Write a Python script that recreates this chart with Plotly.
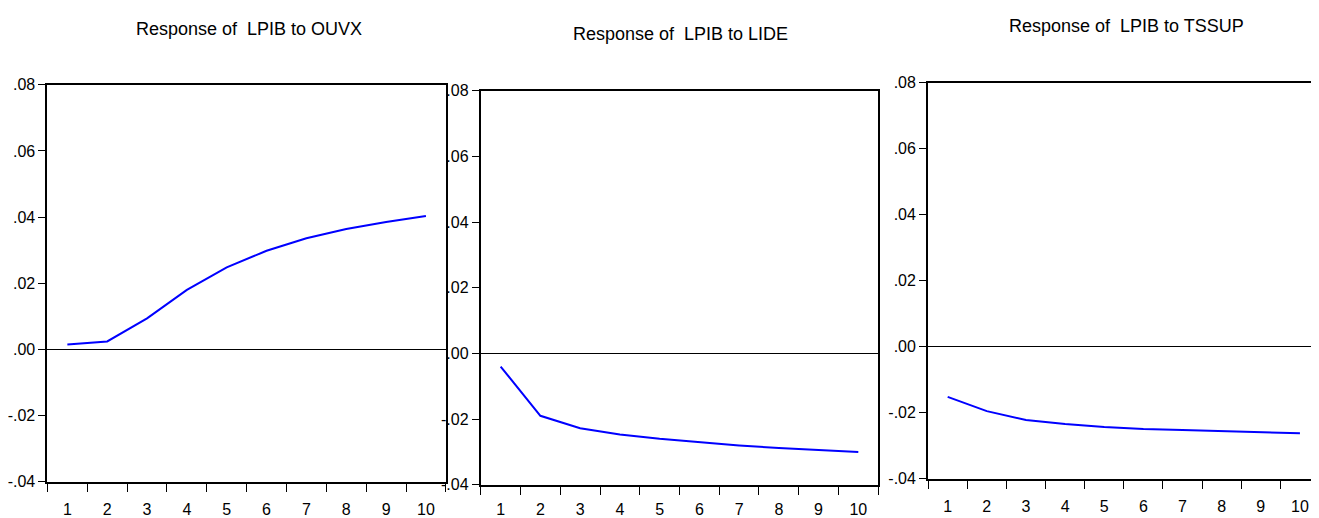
import plotly.graph_objects as go

W, H = 1319, 518
periods = list(range(1, 11))
titles = ["Response of\u00a0 LPIB to OUVX", "Response of\u00a0 LPIB to LIDE", "Response of\u00a0 LPIB to TSSUP"]
resp_ouvx = [0.0015, 0.0024, 0.0094, 0.0180, 0.0248, 0.0298, 0.0336, 0.0364, 0.0385, 0.0403]
resp_lide = [-0.0040, -0.0190, -0.0228, -0.0247, -0.0260, -0.0271, -0.0280, -0.0288, -0.0295, -0.0300]
resp_tssup = [-0.0152, -0.0195, -0.0222, -0.0234, -0.0243, -0.0249, -0.0252, -0.0256, -0.0260, -0.0262]
ytickvals = [-0.04, -0.02, 0.0, 0.02, 0.04, 0.06, 0.08]
yticktext = ["-.04", "-.02", ".00", ".02", ".04", ".06", ".08"]

FONT = "Liberation Sans Narrow, Arial Narrow, Liberation Sans, Arial, sans-serif"

# calibration from target-screen pixels to figure pixels
def fx(px):
    return (px - 7.5) / W

def fy(py):
    return 1 - ((py - 15.47) / 0.9646) / H

# panel geometry in target pixels: left, right, top, bottom
panels = [
    (45, 444, 84, 480),
    (479, 877, 90, 483),
    (927, 1319, 82, 477),
]
series = [resp_ouvx, resp_lide, resp_tssup]
title_pos = [(247, 28.5), (679, 33.5), (1126, 25.5)]
standoffs = [12, 9, 12]

fig = go.Figure()
for i, (l, r, t, b) in enumerate(panels):
    n = "" if i == 0 else str(i + 1)
    fig.add_trace(go.Scatter(x=periods, y=series[i], mode="lines",
                             line=dict(color="#0000ff", width=2),
                             xaxis="x" + n, yaxis="y" + n, showlegend=False))
    fig.layout["xaxis" + n] = dict(
        domain=[fx(l), min(fx(r), 1.0)], range=[0.5, 10.5], anchor="y" + n,
        tickvals=periods, ticktext=[str(p) for p in periods],
        ticks="", showgrid=False, zeroline=False,
        showline=True, linecolor="black", linewidth=2, mirror=True,
        minor=dict(ticks="outside", tick0=0.5, dtick=1, ticklen=8, tickcolor="black", tickwidth=1),
        ticklabelstandoff=standoffs[i],
        tickfont=dict(family=FONT, size=16, color="black"),
        fixedrange=True,
    )
    fig.layout["yaxis" + n] = dict(
        domain=[fy(b), fy(t)], range=[-0.04, 0.08], anchor="x" + n,
        tickvals=ytickvals, ticktext=yticktext,
        ticks="outside", ticklen=7, tickcolor="black", tickwidth=1,
        showgrid=False, zeroline=True, zerolinecolor="black", zerolinewidth=1,
        showline=True, linecolor="black", linewidth=2, mirror=(i < 2),
        tickfont=dict(family=FONT, size=16, color="black"),
        fixedrange=True,
    )
    fig.add_annotation(text=titles[i], x=fx(title_pos[i][0]), y=fy(title_pos[i][1]),
                       xref="paper", yref="paper", showarrow=False,
                       xanchor="center", yanchor="middle",
                       font=dict(family=FONT, size=18, color="black"))

fig.update_layout(width=W, height=H, margin=dict(l=0, r=0, t=0, b=0),
                  paper_bgcolor="white", plot_bgcolor="white")
fig.write_html("out.html")
